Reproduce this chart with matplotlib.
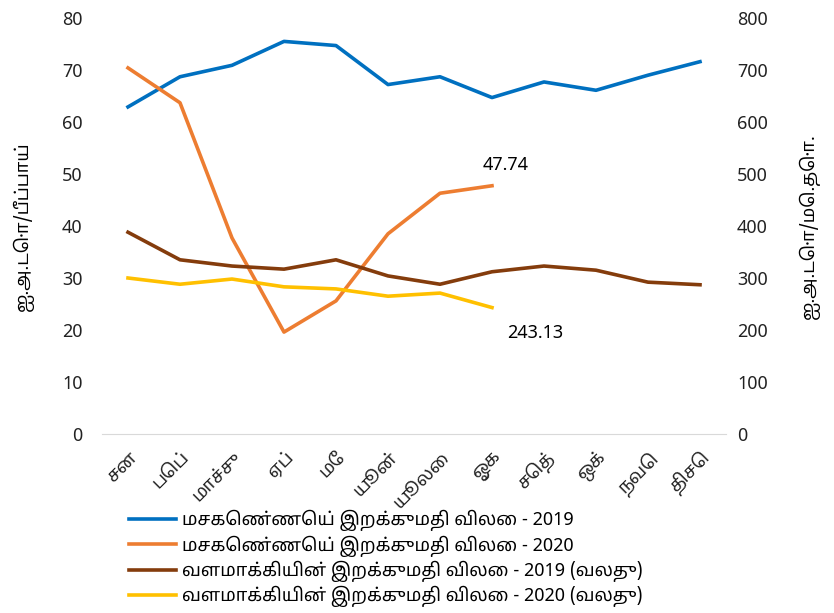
import matplotlib
matplotlib.use("Agg")
import matplotlib.pyplot as plt
from matplotlib import font_manager

months = ["சன", "பெப்", "மாச்சு", "ஏப்", "மே", "யூன்", "யூலை", "ஓக", "செத்", "ஒக்", "நவெ", "திசெ"]
crude_2019 = [62.9, 68.7, 70.9, 75.5, 74.7, 67.2, 68.7, 64.7, 67.7, 66.1, 69.0, 71.6]
crude_2020 = [70.4, 63.7, 37.7, 19.6, 25.6, 38.5, 46.3, 47.74]
fert_2019 = [388, 335, 323, 317, 335, 304, 288, 312, 323, 315, 292, 287]
fert_2020 = [300, 288, 298, 283, 279, 265, 271, 243.13]

labels = ["மசகெண்ணெய் இறக்குமதி விலை - 2019",
          "மசகெண்ணெய் இறக்குமதி விலை - 2020",
          "வளமாக்கியின் இறக்குமதி விலை - 2019 (வலது)",
          "வளமாக்கியின் இறக்குமதி விலை - 2020 (வலது)"]

names = {f.name for f in font_manager.fontManager.ttflist}
fams = [f for f in ["Noto Sans Tamil", "Lohit Tamil", "Noto Sans", "DejaVu Sans"] if f in names]
plt.rcParams["font.family"] = fams

fig = plt.figure(figsize=(8.34, 6.13), dpi=100)
ax = fig.add_axes([102 / 834, 1 - 434 / 613, 624 / 834, 416 / 613])
ax2 = ax.twinx()

x = list(range(len(months)))
l1, = ax.plot(x, crude_2019, color="#0070C0", lw=2.6)
l2, = ax.plot(x[:len(crude_2020)], crude_2020, color="#ED7D31", lw=2.6)
l3, = ax2.plot(x, fert_2019, color="#843C0C", lw=2.6)
l4, = ax2.plot(x[:len(fert_2020)], fert_2020, color="#FFC000", lw=2.6)

ax.set_xlim(-0.5, 11.5)
ax.set_ylim(0, 80)
ax2.set_ylim(0, 800)
ax.set_yticks(range(0, 81, 10))
ax2.set_yticks(range(0, 801, 100))
ax.set_xticks(x)
ax.set_xticklabels(months, rotation=45, ha="right", rotation_mode="anchor", fontsize=13)

for a in (ax, ax2):
    for s in a.spines.values():
        s.set_visible(False)
    a.tick_params(length=0, labelsize=13, colors="#222222")
ax.spines["bottom"].set_visible(True)
ax.spines["bottom"].set_color("#d9d9d9")
ax.tick_params(axis="y", pad=14)
ax2.tick_params(axis="y", pad=8)
ax.tick_params(axis="x", pad=10)

ax.set_ylabel("ஐ.அ.டொ/பீப்பாய்", fontsize=13, labelpad=20)
ax2.set_ylabel("ஐ.அ.டொ/மெ.தொ.", fontsize=13, rotation=90, labelpad=22)

ax.annotate(f"{crude_2020[-1]:.2f}", (7, crude_2020[-1]), xytext=(9.5, 15),
            textcoords="offset points", ha="center", va="center", fontsize=13)
ax2.annotate(f"{fert_2020[-1]:.2f}", (7, fert_2020[-1]), xytext=(31, -18),
             textcoords="offset points", ha="center", va="center", fontsize=13)

fig.legend([l1, l2, l3, l4], labels, loc="upper left", bbox_to_anchor=(122 / 834, 1 - 503 / 613),
           frameon=False, fontsize=13, handlelength=2.6, handletextpad=0.3, labelspacing=0.22,
           borderaxespad=0)

fig.savefig("out.png", dpi=100)
